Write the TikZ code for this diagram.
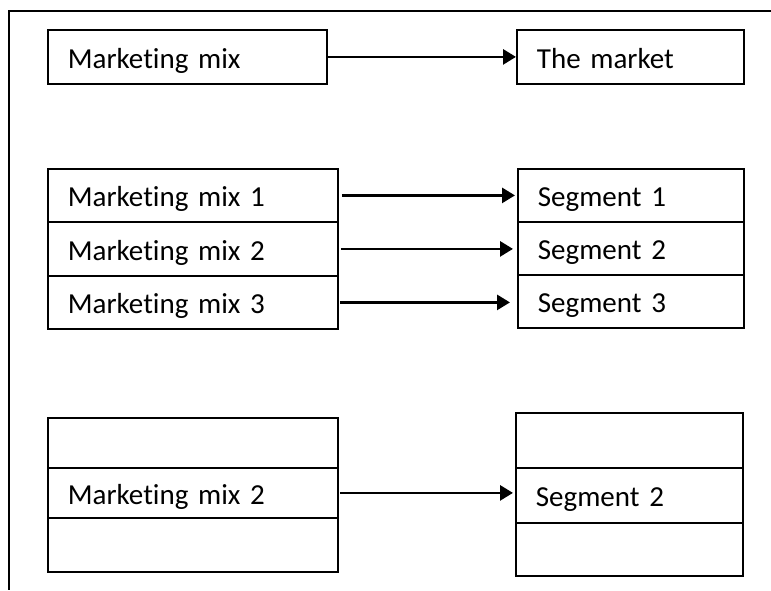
\documentclass[tikz,border=0pt]{standalone}
\usepackage{fontspec}
\setmainfont{Carlito}[Ligatures={NoCommon}]
\usetikzlibrary{arrows.meta}
\newcommand{\myrowfont}{\fontsize{29}{31}\selectfont\spaceskip=4.5pt plus 1pt minus 1pt\relax}
\begin{document}
\begin{tikzpicture}[x=1pt,y=-1pt,
  frame/.style={line width=2pt},
  row/.style args={#1/#2}{draw, line width=1.8pt, anchor=north west,
    minimum width=#1, minimum height=#2, text width=#1-40pt,
    inner xsep=20pt, inner ysep=0pt, align=left,
    text height=23pt, text depth=0pt, font=\myrowfont},
  arr/.style={line width=2.8pt, -{Triangle[length=13pt,width=15pt]}}]
\useasboundingbox (0,0) rectangle (771,590);
% outer frame
\coordinate (ftl) at (9,10.5);
\coordinate (ftr) at (771,10.5);
\coordinate (fbl) at (9,590);
\draw[frame] (ftr) -- (ftl) -- (fbl);
% top
\node[row=279pt/54pt] (a) at (47,29) {Marketing mix};
\node[row=227pt/54pt] (b) at (516,29) {The market};
\draw[arr] (a.east) -- (b.west);
% section 2
\node[row=290pt/53pt] (l1) at (47,168) {Marketing mix 1};
\node[row=290pt/54pt] (l2) at (47,221) {Marketing mix 2};
\node[row=290pt/53pt] (l3) at (47,275) {Marketing mix 3};
\node[row=226pt/53pt] (r1) at (517,168) {Segment 1};
\node[row=226pt/53pt] (r2) at (517,221) {Segment 2};
\node[row=226pt/53pt] (r3) at (517,274) {Segment 3};
\draw[arr] ([xshift=3pt]l1.east) -- ([xshift=-2pt]l1.east -| r1.west);
\draw[arr] ([xshift=2pt]l2.east) -- ([xshift=-4pt]l2.east -| r2.west);
\draw[arr] ([xshift=1pt]l3.east) -- ([xshift=-7pt]l3.east -| r3.west);
% section 3
\node[row=290pt/50pt] (m1) at (47,417) {};
\node[row=290pt/50pt] (m2) at (47,467) {Marketing mix 2};
\node[row=290pt/54pt] (m3) at (47,517) {};
\node[row=227pt/55pt] (s1) at (515,412) {};
\node[row=227pt/55pt] (s2) at (515,467) {Segment 2};
\node[row=227pt/53pt] (s3) at (515,522) {};
\draw[arr] ([xshift=1pt]m2.east) -- ([xshift=-2pt]m2.east -| s2.west);
\end{tikzpicture}
\end{document}
